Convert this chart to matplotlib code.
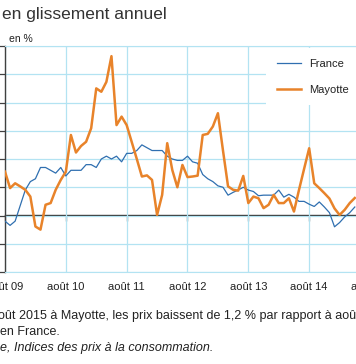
import matplotlib.pyplot as plt
import numpy as np

plt.rcParams["font.family"] = ["Liberation Sans", "DejaVu Sans"]

# glissement annuel en %, mensuel a partir d'aout 2009
france = [-0.2, -0.35, -0.2, 0.35, 0.9, 1.2, 1.3, 1.7, 1.7, 1.6, 1.5, 1.7,
          1.4, 1.6, 1.6, 1.6, 1.8, 1.8, 1.7, 2.0, 2.1, 2.0, 2.1, 1.9,
          2.2, 2.2, 2.3, 2.5, 2.4, 2.3, 2.3, 2.3, 2.1, 2.0, 1.95, 1.95,
          2.1, 1.9, 1.85, 1.45, 1.3, 1.2, 1.05, 1.0, 0.72, 0.82, 0.9, 1.0,
          0.9, 0.85, 0.7, 0.72, 0.72, 0.72, 0.9, 0.65, 0.75, 0.65, 0.5, 0.5,
          0.4, 0.32, 0.48, 0.3, 0.1, -0.4, -0.25, -0.05, 0.1, 0.3]
mayotte = [1.55, 0.97, 1.14, 1.03, 0.91, 0.67, -0.39, -0.5, 0.38, 0.44,
           0.91, 1.26, 1.55, 2.85, 2.23, 2.46, 2.61, 3.09, 4.5, 4.38,
           4.73, 5.64, 3.2, 3.5, 3.2, 2.6, 2.0, 1.38, 1.42, 1.26,
           0.02, 0.73, 2.56, 1.61, 1.0, 1.79, 1.36, 1.38, 1.41, 2.85,
           2.89, 3.15, 3.62, 2.3, 1.03, 0.91, 0.88, 1.40, 0.44, 0.67,
           0.61, 0.26, 0.38, 0.73, 0.44, 0.44, 0.61, 0.14, 0.91, 1.65,
           2.38, 1.14, 0.97, 0.79, 0.6, 0.25, 0.02, 0.2, 0.44, 0.62]
tick_labels = ["août 09", "août 10", "août 11", "août 12", "août 13", "août 14", "août 15"]

GRID = "#b3e3f2"
TXT = "#222222"

fig = plt.figure(figsize=(3.56, 3.64), dpi=100)
# le graphique est rogne a gauche et a droite
ax = fig.add_axes([5 / 356, 92 / 364, 365 / 356, 226 / 364])

ax.plot(np.arange(len(france)), france, color="#2f6fb0", lw=0.9, label="France", zorder=3)
ax.plot(np.arange(len(mayotte)), mayotte, color="#e8832a", lw=1.8, label="Mayotte", zorder=4)

ax.set_xlim(0, 72)
ax.set_ylim(-2, 6)
ax.set_yticks(np.arange(-2, 7))
ax.set_xticks(np.arange(0, 73, 12))
ax.set_xticklabels(tick_labels, fontsize=8, color=TXT)
ax.grid(True, color=GRID, lw=0.9, zorder=0)
ax.tick_params(axis="x", length=0, pad=7)
ax.tick_params(axis="y", length=4, width=0.9, color="#404040", labelleft=False)

for side in ["top", "right", "bottom"]:
    ax.spines[side].set_color(GRID)
ax.spines["left"].set_color("#404040")
ax.spines["left"].set_linewidth(1.0)

# axe des abscisses a zero
zero = ax.secondary_xaxis(0, transform=ax.transData)
zero.set_xticks(np.arange(0, 73, 12))
zero.tick_params(length=4, width=0.9, color="#333333", labelbottom=False)
zero.spines["bottom"].set_color("#333333")
zero.spines["bottom"].set_linewidth(1.0)

leg = ax.legend(loc="upper left", bbox_to_anchor=(266 / 356, 1 - 48 / 364),
                bbox_transform=fig.transFigure, borderaxespad=0, borderpad=0.95,
                frameon=True, fancybox=False, edgecolor="none", facecolor="white",
                framealpha=1, fontsize=8, handlelength=2.2, handletextpad=0.75,
                labelspacing=1.45)
for t in leg.get_texts():
    t.set_color(TXT)

fig.text(2 / 356, 1 - 15 / 364, "en glissement annuel", fontsize=12.5, color="#333333", va="center")
fig.text(9 / 356, 1 - 39 / 364, "en %", fontsize=7.5, color=TXT, va="center")

fig.text(-2 / 356, 1 - 316 / 364, "oût 2015 à Mayotte, les prix baissent de 1,2 % par rapport à aoû",
         fontsize=9, color=TXT, va="center")
fig.text(0, 1 - 332 / 364, "en France.", fontsize=9, color=TXT, va="center")
fig.text(0, 1 - 348 / 364, "e, Indices des prix à la consommation.", fontsize=9,
         color=TXT, va="center", style="italic")

fig.savefig("out.png", dpi=100)
